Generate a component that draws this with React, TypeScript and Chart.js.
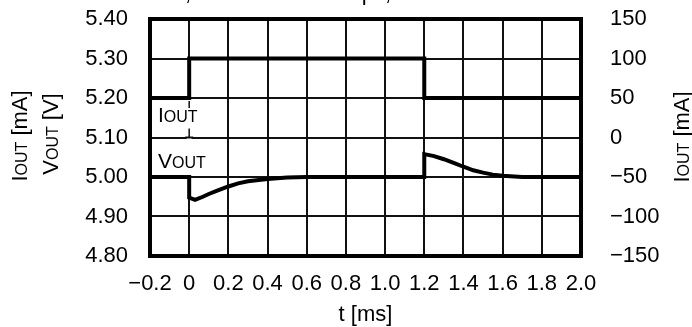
import React, { useEffect, useRef } from "react";
import { Chart, registerables } from "chart.js";

Chart.register(...registerables);

// ---- data ----
const tVout = [-0.2, 0, 0, 0.03, 0.07, 0.1, 0.14, 0.2, 0.25, 0.3, 0.4, 0.5, 0.6, 1.2, 1.2, 1.25, 1.3, 1.35, 1.4, 1.45, 1.5, 1.55, 1.6, 1.7, 2.0];
const vout = [5.0, 5.0, 4.948, 4.942, 4.95, 4.957, 4.965, 4.976, 4.984, 4.989, 4.995, 4.999, 5.0, 5.0, 5.058, 5.053, 5.045, 5.036, 5.026, 5.017, 5.011, 5.006, 5.003, 5.0, 5.0];
const tIout = [-0.2, 0, 0, 1.2, 1.2, 2.0];
const iout = [50, 50, 100, 100, 50, 50];

const xTicks = [-0.2, 0, 0.2, 0.4, 0.6, 0.8, 1.0, 1.2, 1.4, 1.6, 1.8, 2.0];
const vTicks = [4.8, 4.9, 5.0, 5.1, 5.2, 5.3, 5.4];
const iTicks = [-150, -100, -50, 0, 50, 100, 150];

const FONT = '"Liberation Sans", Arial, Helvetica, sans-serif';
const MINUS = "\u2212";

type Part = { t: string; s: number };

function partsWidth(ctx: CanvasRenderingContext2D, parts: Part[]) {
  let w = 0;
  for (const p of parts) {
    ctx.font = `${p.s}px ${FONT}`;
    w += ctx.measureText(p.t).width;
  }
  return w;
}

function drawParts(ctx: CanvasRenderingContext2D, parts: Part[], x: number, y: number) {
  let cx = x;
  ctx.textBaseline = "alphabetic";
  ctx.textAlign = "left";
  for (const p of parts) {
    ctx.font = `${p.s}px ${FONT}`;
    ctx.fillText(p.t, cx, y);
    cx += ctx.measureText(p.t).width;
  }
}

function drawRotated(ctx: CanvasRenderingContext2D, parts: Part[], baseX: number, centerY: number) {
  ctx.save();
  ctx.translate(baseX, centerY);
  ctx.rotate(-Math.PI / 2);
  const w = partsWidth(ctx, parts);
  drawParts(ctx, parts, -w / 2, 0);
  ctx.restore();
}

const ioutTitle: Part[] = [
  { t: "I", s: 22 },
  { t: "OUT", s: 16 },
  { t: " [mA]", s: 22 },
];
const voutTitle: Part[] = [
  { t: "V", s: 22 },
  { t: "OUT", s: 16 },
  { t: " [V]", s: 22 },
];

const overlayPlugin = {
  id: "overlay",
  beforeDatasetsDraw(chart: any) {
    const { ctx, scales } = chart;
    const x = scales.x;
    const y = scales.y;
    const px = x.getPixelForValue(0);
    const y52 = y.getPixelForValue(5.2);
    const y51 = y.getPixelForValue(5.1);
    const y50 = y.getPixelForValue(5.0);
    ctx.save();
    ctx.fillStyle = "#fff";
    ctx.fillRect(px - 2.5, y52 + 1, 5, y50 - y52 - 2);
    ctx.strokeStyle = "#111";
    ctx.lineWidth = 2;
    ctx.beginPath();
    ctx.moveTo(px - 4, y51);
    ctx.lineTo(px + 4, y51);
    ctx.stroke();
    ctx.lineWidth = 1.5;
    ctx.beginPath();
    ctx.moveTo(px, y52 + 3);
    ctx.lineTo(px, y52 + 10);
    ctx.moveTo(px, y51 - 9);
    ctx.lineTo(px, y51);
    ctx.stroke();
    ctx.restore();
  },
  afterDatasetsDraw(chart: any) {
    const { ctx, chartArea } = chart;
    const { left, top, right, bottom } = chartArea;
    ctx.save();
    ctx.strokeStyle = "#000";
    ctx.lineWidth = 4;
    ctx.strokeRect(left, top, right - left, bottom - top);
    ctx.fillStyle = "#000";
    // in-plot labels
    drawParts(ctx, [{ t: "I", s: 21 }, { t: "OUT", s: 16 }], left + 8, 122);
    drawParts(ctx, [{ t: "V", s: 21 }, { t: "OUT", s: 16 }], left + 8, 168);
    ctx.restore();
  },
  afterDraw(chart: any) {
    const { ctx, chartArea } = chart;
    ctx.save();
    ctx.fillStyle = "#000";
    // partially visible header line (only descenders show)
    ctx.font = `22px ${FONT}`;
    ctx.textBaseline = "alphabetic";
    ctx.textAlign = "right";
    ctx.fillText("VIN = 12 V,", 191, 0);
    ctx.fillText("CL = 100 pF,", 391, 0);
    // axis titles
    drawRotated(ctx, ioutTitle, 27, 136);
    drawRotated(ctx, voutTitle, 58, 134);
    drawRotated(ctx, ioutTitle, 689, 137);
    ctx.font = `22px ${FONT}`;
    ctx.textAlign = "center";
    ctx.fillText("t [ms]", (chartArea.left + chartArea.right) / 2, 321);
    ctx.restore();
  },
};

function fmtX(v: number) {
  if (Math.abs(v) < 1e-9) return "0";
  const s = Math.abs(v).toFixed(1);
  return v < 0 ? MINUS + s : s;
}
function fmtI(v: number) {
  if (Math.abs(v) < 1e-9) return "0";
  return v < 0 ? MINUS + Math.abs(v).toFixed(0) : v.toFixed(0);
}

export default function App() {
  const ref = useRef<HTMLCanvasElement | null>(null);

  useEffect(() => {
    document.body.style.margin = "0";
    const canvas = ref.current;
    if (!canvas) return;
    const tickFont = { family: FONT, size: 22 };
    const chart = new Chart(canvas, {
      type: "line",
      data: {
        datasets: [
          {
            label: "VOUT",
            data: tVout.map((t, i) => ({ x: t, y: vout[i] })),
            borderColor: "#000",
            borderWidth: 4,
            pointRadius: 0,
            tension: 0,
            fill: false,
            yAxisID: "y",
          },
          {
            label: "IOUT",
            data: tIout.map((t, i) => ({ x: t, y: iout[i] })),
            borderColor: "#000",
            borderWidth: 4,
            pointRadius: 0,
            tension: 0,
            fill: false,
            yAxisID: "y2",
          },
        ],
      },
      options: {
        animation: false,
        responsive: false,
        devicePixelRatio: 1,
        layout: { padding: { top: 19, left: 0, right: 0, bottom: 0 } },
        plugins: { legend: { display: false }, tooltip: { enabled: false } },
        scales: {
          x: {
            type: "linear",
            min: xTicks[0],
            max: xTicks[xTicks.length - 1],
            afterBuildTicks: (s: any) => {
              s.ticks = xTicks.map((v) => ({ value: v }));
            },
            afterFit: (s: any) => {
              s.height = 71;
              s.paddingLeft = 0;
              s.paddingRight = 0;
            },
            ticks: {
              color: "#000",
              font: tickFont,
              padding: 15,
              maxRotation: 0,
              autoSkip: false,
              callback: (v: any) => fmtX(Number(v)),
            },
            grid: { color: "#111", lineWidth: 2, drawTicks: false },
            border: { display: false },
          },
          y: {
            type: "linear",
            position: "left",
            min: vTicks[0],
            max: vTicks[vTicks.length - 1],
            afterBuildTicks: (s: any) => {
              s.ticks = vTicks.map((v) => ({ value: v }));
            },
            afterFit: (s: any) => {
              s.width = 150;
              s.paddingTop = 0;
              s.paddingBottom = 0;
            },
            ticks: {
              color: "#000",
              font: tickFont,
              padding: 22,
              autoSkip: false,
              callback: (v: any) => Number(v).toFixed(2),
            },
            grid: { color: "#111", lineWidth: 2, drawTicks: false },
            border: { display: false },
          },
          y2: {
            type: "linear",
            position: "right",
            min: iTicks[0],
            max: iTicks[iTicks.length - 1],
            afterBuildTicks: (s: any) => {
              s.ticks = iTicks.map((v) => ({ value: v }));
            },
            afterFit: (s: any) => {
              s.width = 111;
              s.paddingTop = 0;
              s.paddingBottom = 0;
            },
            ticks: {
              color: "#000",
              font: tickFont,
              padding: 29,
              autoSkip: false,
              callback: (v: any) => fmtI(Number(v)),
            },
            grid: { display: false, drawTicks: false },
            border: { display: false },
          },
        },
      },
      plugins: [overlayPlugin],
    } as any);
    return () => chart.destroy();
  }, []);

  return (
    <div style={{ width: 692, height: 327, background: "#fff" }}>
      <canvas ref={ref} width={692} height={327} style={{ display: "block" }} />
    </div>
  );
}
